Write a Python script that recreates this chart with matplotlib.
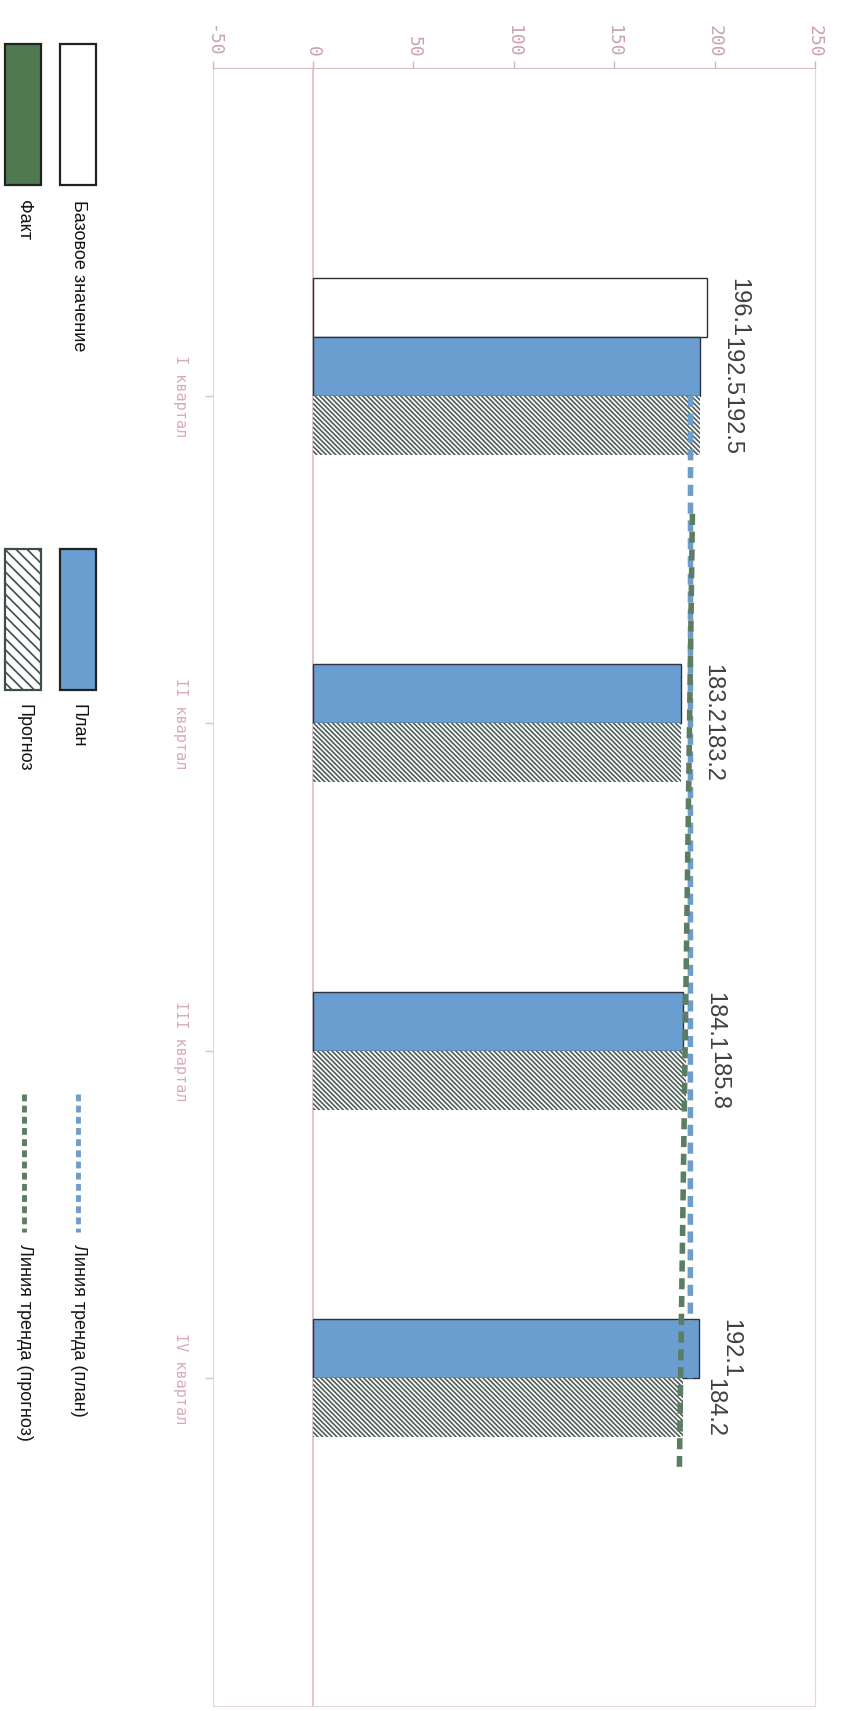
import numpy as np
import matplotlib.pyplot as plt
from matplotlib.patches import Rectangle

quarters = ['I квартал', 'II квартал', 'III квартал', 'IV квартал']
base = [196.1, None, None, None]
plan = [192.5, 183.2, 184.1, 192.1]
fact = [None, None, None, None]
forecast = [192.5, 183.2, 185.8, 184.2]
value_ticks = [-50, 0, 50, 100, 150, 200, 250]

plt.rcParams['hatch.linewidth'] = 1.2

fig = plt.figure(figsize=(8.41, 17.11), dpi=100)
ax = fig.add_axes([0.253, 0.003, 0.716, 0.957])

pos = np.arange(len(quarters))
w = 0.18
series = [
    (base, -0.27, dict(color='white', edgecolor='#2b2f36', linewidth=1.0)),
    (plan, -0.09, dict(color='#6b9ed0', edgecolor='#2b3440', linewidth=1.0)),
    (forecast, 0.09, dict(color='white', edgecolor='#4d5f58', linewidth=0, hatch='\\' * 7)),
    (fact, 0.27, dict(color='#4f7a50', edgecolor='#2b3440', linewidth=1.0)),
]
for vals, off, style in series:
    for i, v in enumerate(vals):
        if v is None:
            continue
        ax.barh(pos[i] + off, v, height=w, zorder=3, **style)
        ax.annotate(f'{v:.1f}', xy=(v, pos[i] + off - w / 2), xytext=(15, 0),
                    textcoords='offset points', rotation=-90, ha='left', va='top',
                    fontsize=17, color='#404040', family='Liberation Sans')

# linear trend lines
k1, b1 = np.polyfit(pos, plan, 1)
xs = np.array([0.0, 3.0])
ax.plot(k1 * xs + b1, xs, color='#6f9dca', lw=4, dashes=(2.0, 1.2), zorder=4)
k2, b2 = np.polyfit(pos, forecast, 1)
xs2 = np.array([0.36, 3.27])
ax.plot(k2 * xs2 + b2, xs2, color='#5b7d62', lw=4, dashes=(2.0, 1.2), zorder=5)

ax.axvline(0, color='#dcbcc4', lw=1.2, zorder=1)

ax.set_xlim(-50, 250)
ax.set_ylim(4.0, -1.0)
ax.xaxis.tick_top()
ax.set_xticks(value_ticks)
ax.set_xticklabels([str(t) for t in value_ticks], rotation=-90, fontsize=13,
                   color='#cba2ad', family='DejaVu Sans Mono')
ax.set_yticks(pos)
ax.set_yticklabels(quarters, rotation=-90, fontsize=11, color='#d9adb7',
                   family='DejaVu Sans Mono', va='center')
ax.tick_params(axis='x', colors='#d4b4bc', length=5, width=1, labelcolor='#cba2ad', pad=3)
ax.tick_params(axis='y', colors='#d8c4c8', length=6, width=1, labelcolor='#d9adb7', pad=12)
for s in ['left', 'right', 'bottom']:
    ax.spines[s].set_color('#e6d6da')
ax.spines['top'].set_color('#d6bcc3')

# legend drawn by hand, rotated with the chart
lg = fig.add_axes([0, 0, 1, 1])
lg.set_xlim(0, 841)
lg.set_ylim(1711, 0)
lg.axis('off')
lg.patch.set_alpha(0)
tkw = dict(rotation=-90, ha='center', va='top', fontsize=13, color='#141414',
           family='Liberation Sans')
lg.add_patch(Rectangle((60, 44), 36, 141, facecolor='white', edgecolor='#222222', lw=1.6))
lg.text(78, 200, 'Базовое значение', **tkw)
lg.add_patch(Rectangle((5, 44), 36, 141, facecolor='#4f7a50', edgecolor='#222222', lw=1.6))
lg.text(24, 200, 'Факт', **tkw)
lg.add_patch(Rectangle((60, 549), 36, 141, facecolor='#6b9ed0', edgecolor='#222222', lw=1.6))
lg.text(78, 704, 'План', **tkw)
lg.add_patch(Rectangle((5, 549), 36, 141, facecolor='white', edgecolor='#3f4f48', lw=1.6,
                       hatch='\\\\\\'))
lg.text(24, 704, 'Прогноз', **tkw)
lg.plot([78, 78], [1094, 1232], color='#6f9dca', lw=3.5, dashes=(1.4, 0.9))
lg.text(78, 1244, 'Линия тренда (план)', **tkw)
lg.plot([24, 24], [1094, 1232], color='#5b7d62', lw=3.5, dashes=(1.4, 0.9))
lg.text(24, 1244, 'Линия тренда (прогноз)', **tkw)

fig.savefig('out.png', dpi=100)
